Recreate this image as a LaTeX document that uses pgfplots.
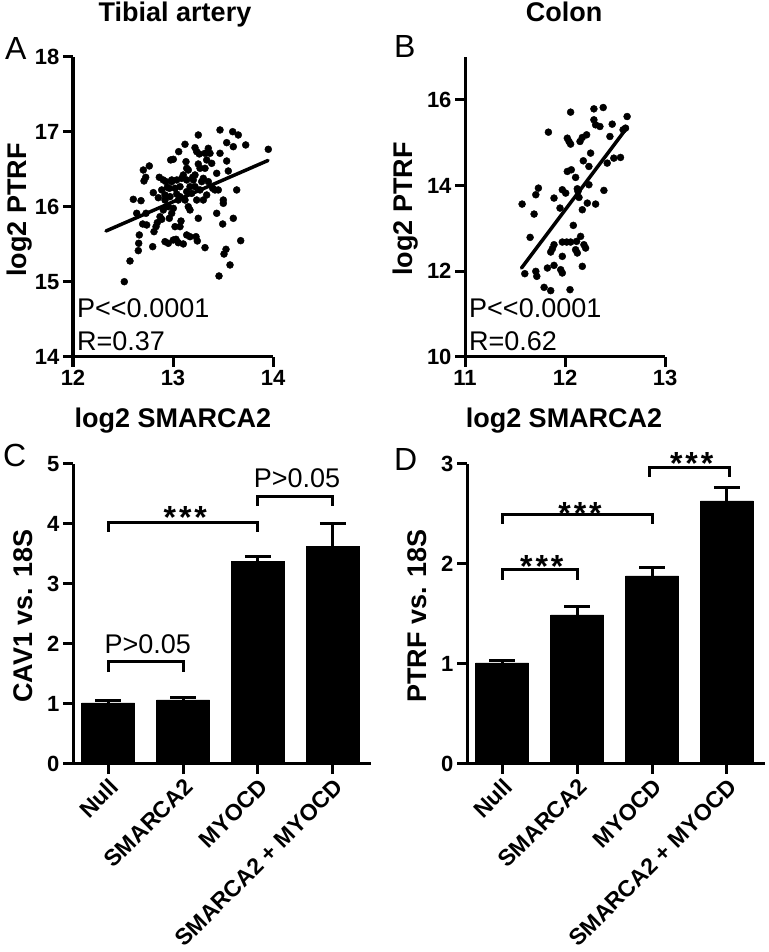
\documentclass[border=0pt]{standalone}
\usepackage{fontspec}
\setmainfont{Liberation Sans}
\usepackage{pgfplots}
\usepackage{pgfplotstable}
\pgfplotsset{compat=1.18}

\pgfplotstableread{
x y
12.513 15.004
12.570 15.280
12.653 15.418
12.657 15.516
12.663 15.627
12.697 15.773
12.737 15.760
12.797 15.471
12.810 15.671
12.830 15.738
12.843 15.791
12.887 15.836
12.603 16.102
12.680 16.084
12.730 15.916
12.637 15.916
12.803 16.191
12.853 16.124
12.703 16.493
12.763 16.547
12.710 16.347
12.727 16.396
12.863 16.396
12.903 16.360
12.887 16.227
12.930 16.338
12.943 16.262
12.920 16.093
12.953 16.004
12.970 16.138
12.987 15.916
12.963 15.849
13.003 15.982
13.020 15.738
13.003 15.560
12.953 15.516
12.920 15.538
12.963 16.249
12.987 16.360
13.020 16.249
13.037 16.173
13.053 16.093
13.070 16.271
13.037 16.360
13.087 16.382
13.103 16.427
13.120 16.093
13.137 16.204
13.153 16.004
13.170 15.960
13.187 16.182
13.203 16.360
13.220 16.271
13.237 16.093
13.253 15.849
13.270 16.227
13.287 16.338
13.303 16.382
13.337 16.160
13.353 16.338
13.320 16.516
13.003 16.636
12.977 16.627
13.057 16.738
13.130 16.604
13.137 16.516
13.153 16.493
13.197 16.396
13.220 16.427
13.253 16.573
13.270 16.516
13.220 16.791
13.237 16.738
13.253 16.960
13.120 16.836
13.263 16.707
13.320 16.716
13.353 16.782
13.370 16.716
13.337 16.627
13.387 16.582
13.397 16.249
13.420 16.227
13.437 15.916
13.453 16.227
13.497 15.773
13.503 16.049
13.537 16.613
13.553 16.480
13.537 16.858
13.603 16.804
13.603 15.849
13.637 16.227
13.677 15.551
13.470 17.027
13.597 17.004
13.653 16.960
13.727 16.827
13.953 16.769
13.030 15.569
13.053 15.524
13.103 15.507
13.137 15.627
13.170 15.604
13.230 15.604
13.243 15.547
13.320 15.458
13.070 15.738
13.080 15.813
13.530 15.436
13.510 15.373
13.570 15.227
13.460 15.080
13.437 16.449
13.503 16.093
13.137 16.360
13.170 16.271
13.070 16.138
13.470 16.716
12.987 16.338
12.920 16.160
12.903 15.960
12.870 15.871
13.303 16.093
}\tibial

\pgfplotstableread{
x y
11.571 13.568
11.598 11.944
11.651 12.791
11.691 13.335
11.708 13.786
11.734 13.941
11.708 11.998
11.718 11.882
11.791 11.625
11.857 11.548
11.824 12.076
11.834 15.246
11.890 13.708
11.857 12.449
11.874 12.527
11.890 12.620
11.890 12.138
11.957 12.037
11.973 11.960
11.950 13.475
11.973 13.902
12.007 13.824
11.973 12.348
11.973 12.682
12.017 12.682
12.056 12.682
12.023 15.106
12.040 15.029
12.056 14.967
12.056 15.713
12.023 14.329
12.063 14.368
12.106 14.190
12.050 11.571
12.083 13.071
12.106 12.503
12.123 12.426
12.116 12.698
12.156 12.814
12.189 12.620
12.206 12.542
12.173 12.115
12.130 13.863
12.123 13.925
12.140 13.723
12.173 13.436
12.223 13.591
12.239 14.019
12.150 15.029
12.173 15.122
12.216 15.184
12.183 14.578
12.239 14.446
12.256 14.757
12.289 15.790
12.382 15.821
12.289 15.534
12.306 15.417
12.349 15.378
12.306 13.568
12.389 13.887
12.422 14.524
12.449 15.145
12.472 15.433
12.488 14.640
12.555 14.656
12.581 15.301
12.605 15.340
12.621 15.611
}\colon

\pgfplotsset{
  gp/.style={
    scale only axis, anchor=south west, clip=false,
    axis x line=bottom, axis y line=left,
    axis line style={-, line width=3pt, black},
    tick align=outside, major tick length=10pt,
    tick style={line width=3pt, black},
    tick label style={font=\bfseries\fontsize{22}{22}\selectfont},
    /pgf/number format/assume math mode=true,
  },
  gpbar/.style={gp,
    width=298pt, height=300pt,
    xmin=-0.467, xmax=3.507, ymin=0,
    xtick={0,1,2,3},
    xticklabels={Null,SMARCA2,MYOCD,SMARCA2 + MYOCD},
    xticklabel style={rotate=45, anchor=north east, inner sep=2pt,
      font=\bfseries\fontsize{23}{23}\selectfont},
  },
}
\newcommand{\ann}{\fontsize{27}{27}\selectfont}
\newcommand{\lab}{\bfseries\fontsize{27}{27}\selectfont}
\newcommand{\stars}{\bfseries\fontsize{32}{32}\selectfont *\kern3pt*\kern3pt*}

\begin{document}
\begin{tikzpicture}
\path[use as bounding box] (0,0) rectangle (768pt,952pt);

% Panel A
\begin{axis}[gp, at={(73pt,595pt)}, width=200pt, height=300pt,
  xmin=12, xmax=14, ymin=14, ymax=18, xtick={12,13,14}, ytick={14,15,16,17,18}]
\addplot[only marks, mark=*, mark size=3.5pt, black] table[x=x,y=y] {\tibial};
\addplot[line width=3.5pt, black, line cap=round] coordinates {(12.33,15.68) (13.95,16.62)};
\node[anchor=base west, inner sep=0pt, font=\ann] at (axis cs:12.04,14.53) {P<\kern0pt<0.0001};
\node[anchor=base west, inner sep=0pt, font=\ann] at (axis cs:12.04,14.09) {R=0.37};
\end{axis}

% Panel B
\begin{axis}[gp, at={(465pt,595pt)}, width=200pt, height=300pt,
  xmin=11, xmax=13, ymin=10, ymax=17, xtick={11,12,13}, ytick={10,12,14,16}]
\addplot[only marks, mark=*, mark size=3.5pt, black] table[x=x,y=y] {\colon};
\addplot[line width=3.5pt, black, line cap=round] coordinates {(11.565,12.076) (12.621,15.355)};
\node[anchor=base west, inner sep=0pt, font=\ann] at (axis cs:11.04,10.93) {P<\kern0pt<0.0001};
\node[anchor=base west, inner sep=0pt, font=\ann] at (axis cs:11.04,10.16) {R=0.62};
\end{axis}

% Panel C
\begin{axis}[gpbar, at={(73pt,188pt)}, ymax=5, ytick={0,1,2,3,4,5}]
\addplot[ybar, bar width=53pt, fill=black, draw=black,
  error bars/.cd, y dir=plus, y explicit,
  error bar style={line width=3pt, black},
  error mark options={rotate=90, line width=3pt, mark size=13pt, black}]
  coordinates {(0,1.02) +- (0,0.03) (1,1.07) +- (0,0.04) (2,3.38) +- (0,0.07) (3,3.63) +- (0,0.37)};
\draw[line width=3pt] (axis cs:0,1.53) -- (axis cs:0,1.71) -- (axis cs:1,1.71) -- (axis cs:1,1.53);
\draw[line width=3pt] (axis cs:0,3.87) -- (axis cs:0,4.03) -- (axis cs:2,4.03) -- (axis cs:2,3.87);
\draw[line width=3pt] (axis cs:2,4.30) -- (axis cs:2,4.45) -- (axis cs:3,4.45) -- (axis cs:3,4.30);
\node[anchor=base, inner sep=0pt, font=\ann] at (axis cs:0.53,1.84) {P>0.05};
\node[anchor=base, inner sep=0pt, font=\ann] at (axis cs:2.52,4.60) {P>0.05};
\node[anchor=base, inner sep=0pt] at (axis cs:1.03,3.93) {\stars};
\end{axis}

% Panel D
\begin{axis}[gpbar, at={(467pt,188pt)}, ymax=3, ytick={0,1,2,3}]
\addplot[ybar, bar width=53pt, fill=black, draw=black,
  error bars/.cd, y dir=plus, y explicit,
  error bar style={line width=3pt, black},
  error mark options={rotate=90, line width=3pt, mark size=13pt, black}]
  coordinates {(0,1.01) +- (0,0.02) (1,1.49) +- (0,0.08) (2,1.88) +- (0,0.08) (3,2.63) +- (0,0.13)};
\draw[line width=3pt] (axis cs:0,1.84) -- (axis cs:0,1.94) -- (axis cs:1,1.94) -- (axis cs:1,1.84);
\draw[line width=3pt] (axis cs:0,2.40) -- (axis cs:0,2.49) -- (axis cs:2,2.49) -- (axis cs:2,2.40);
\draw[line width=3pt] (axis cs:1.96,2.87) -- (axis cs:1.96,2.96) -- (axis cs:3.03,2.96) -- (axis cs:3.03,2.87);
\node[anchor=base, inner sep=0pt] at (axis cs:0.53,1.86) {\stars};
\node[anchor=base, inner sep=0pt] at (axis cs:1.04,2.39) {\stars};
\node[anchor=base, inner sep=0pt] at (axis cs:2.53,2.89) {\stars};
\end{axis}

% Titles, letters, labels
\node[anchor=base, inner sep=0pt, font=\lab] at (175pt,930pt) {Tibial artery};
\node[anchor=base, inner sep=0pt, font=\lab] at (564pt,930pt) {Colon};
\node[anchor=base west, inner sep=0pt, font=\fontsize{32}{32}\selectfont] at (5pt,892pt) {A};
\node[anchor=base west, inner sep=0pt, font=\fontsize{32}{32}\selectfont] at (394pt,894pt) {B};
\node[anchor=base west, inner sep=0pt, font=\fontsize{32}{32}\selectfont] at (3pt,485pt) {C};
\node[anchor=base west, inner sep=0pt, font=\fontsize{32}{32}\selectfont] at (394pt,481pt) {D};
\node[anchor=base, rotate=90, inner sep=0pt, font=\lab] at (26pt,742pt) {log2 PTRF};
\node[anchor=base, rotate=90, inner sep=0pt, font=\lab] at (412pt,743pt) {log2 PTRF};
\node[anchor=base, inner sep=0pt, font=\lab] at (173pt,524pt) {log2 SMARCA2};
\node[anchor=base, inner sep=0pt, font=\lab] at (564pt,524pt) {log2 SMARCA2};
\node[anchor=base, rotate=90, inner sep=0pt, font=\lab] at (32pt,336pt) {CAV1 vs. 18S};
\node[anchor=base, rotate=90, inner sep=0pt, font=\lab] at (426pt,336pt) {PTRF vs. 18S};
\end{tikzpicture}
\end{document}
